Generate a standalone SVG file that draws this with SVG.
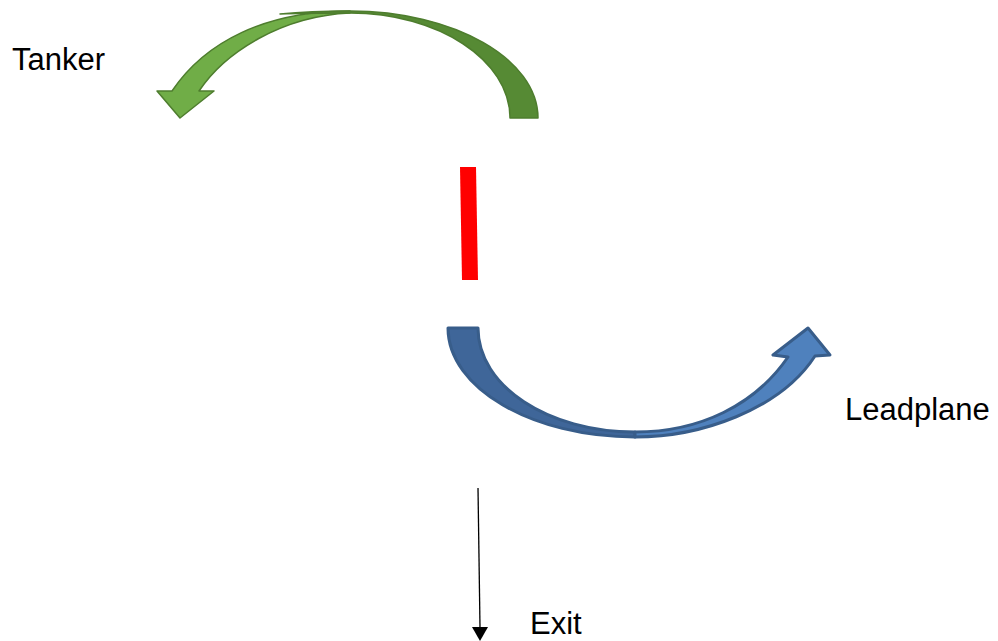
<svg xmlns="http://www.w3.org/2000/svg" width="998" height="641" viewBox="0 0 998 641">
<style>
.lbl{font-family:"Liberation Sans",Arial,sans-serif;font-size:31px;fill:#000}
.gd{fill:#568A34;stroke:#4E7D2E;stroke-width:1.5;stroke-linejoin:round}
.gl{fill:#70AD47;stroke:#4E7D2E;stroke-width:1.5;stroke-linejoin:round}
.bd{fill:#3F6699;stroke:#385D8A;stroke-width:3;stroke-linejoin:round}
.bl{fill:#4F81BD;stroke:#385D8A;stroke-width:3;stroke-linejoin:round}
</style>
<rect width="998" height="641" fill="#fff"/>
<g id="tanker-arrow">
<path class="gl" d="M350,11 C265,11 205,42 172,91 L157,91 L180,118 L214,91 L199,91 C225,52 282,16 350,13 Z"/>
<path class="gd" d="M538,118 C538,59 454,11 350,11 C325,11 300,12 280,14 C303,13 326,13 350,13 C438,13 510,60 510,118 Z"/>
</g>
<g id="tanker-label"><text class="lbl" x="12" y="70">Tanker</text></g>
<g id="red-bar"><polygon points="460,167 476,167 478,280 462,280" fill="#FF0000"/></g>
<g id="leadplane-arrow">
<path class="bd" d="M448,328 C448,388 532,437 635,437 L635,432 C548,432 478,386 478,328 Z"/>
<path class="bl" d="M635,437 C700,437 780,410 815,356 L830,355 L808,328 L773,355 L788,357 C755,405 700,432 635,432 Z"/>
</g>
<g id="leadplane-label"><text class="lbl" x="845" y="420">Leadplane</text></g>
<g id="connectors">
<line x1="478" y1="488" x2="480" y2="627" stroke="#000" stroke-width="1.3"/>
<polygon points="472,627 488,627 480,641" fill="#000"/>
</g>
<g id="exit-label"><text class="lbl" x="530" y="634">Exit</text></g>
</svg>
